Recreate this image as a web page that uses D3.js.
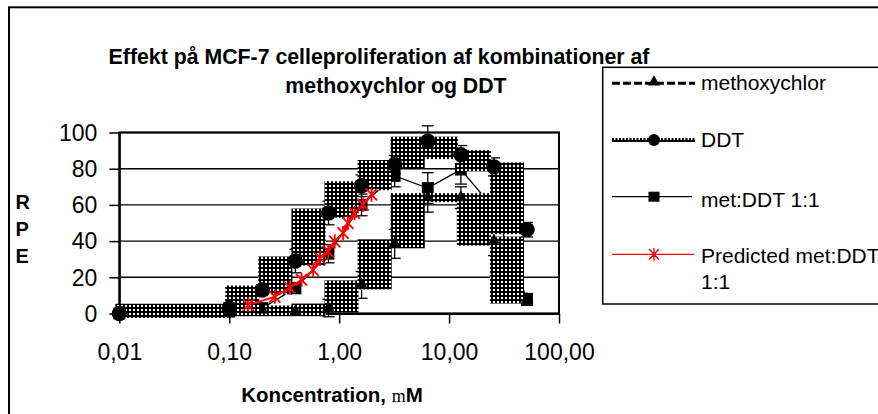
<!DOCTYPE html>
<html><head><meta charset="utf-8">
<script src="https://cdn.jsdelivr.net/npm/d3@7"></script>
<style>html,body{margin:0;padding:0;background:#fff;} svg{display:block;font-family:"Liberation Sans",Arial,sans-serif;}</style>
</head><body><svg id="c" width="878" height="414"></svg>
<script>
// ---- data ----
const conc = [0.01, 0.1, 0.2, 0.4, 0.8, 1.6, 3.2, 6.4, 12.8, 25.6, 51.2];
const methoxychlor = [0, 1, 2, 1, 3, 15.8, 38.5, 64, 64, 40, 8];
const methErr = [1, 1, 2, 2, 4.8, 7.4, 8, 8, 6, 8, 3];
const ddt = [0, 2.9, 13, 29, 55.5, 70.6, 82.3, 95.2, 87.8, 81, 46.3];
const ddtErr = [1, 3, 3, 6.5, 6.5, 6, 5, 8.5, 5, 5, 4];
const metDDT = [0, 1, 3, 14, 33, 60, 76, 69.3, 79.5, 58, 7.5];
const metErr = [1, 1, 2, 3, 5, 6, 6, 8.5, 8, 8, 3];
const predConc = [0.149, 0.26, 0.356, 0.455, 0.58, 0.668, 0.795, 0.912, 1.087, 1.2, 1.38, 1.65, 1.97];
const predicted = [4.7, 9.3, 14.3, 18.6, 24, 30.6, 34.2, 39.8, 44.4, 50, 55.5, 60.1, 65.7];
const xTickValues = [0.01, 0.1, 1, 10, 100];
const xTickLabels = ["0,01", "0,10", "1,00", "10,00", "100,00"];
const yTickValues = [0, 20, 40, 60, 80, 100];
const seriesNames = ["methoxychlor", "DDT", "met:DDT 1:1", "Predicted met:DDT", "1:1"];
const titleLines = ["Effekt på MCF-7 celleproliferation af kombinationer af", "methoxychlor og DDT"];

// ---- setup ----
const W = 878, H = 414;
const svg = d3.select("#c");
svg.append("rect").attr("width", W).attr("height", H).attr("fill", "#fff");
svg.append("rect").attr("x", 9).attr("y", 7.3).attr("width", W).attr("height", H)
  .attr("fill", "none").attr("stroke", "#000").attr("stroke-width", 2);

const defs = svg.append("defs");
const pat = defs.append("pattern").attr("id", "chk").attr("width", 4).attr("height", 4)
  .attr("patternUnits", "userSpaceOnUse");
pat.append("rect").attr("width", 4).attr("height", 4).attr("fill", "#000");
pat.append("rect").attr("x", 1).attr("y", 1).attr("width", 2).attr("height", 2).attr("fill", "#fff");

const x = d3.scaleLog().domain([0.01, 100]).range([119.3, 559]);
const y = d3.scaleLinear().domain([0, 100]).range([313.5, 132.5]);

// title
svg.append("text").attr("x", 379).attr("y", 64).attr("text-anchor", "middle")
  .attr("font-weight", "bold").attr("font-size", 21.3).text(titleLines[0]);
svg.append("text").attr("x", 396).attr("y", 93.3).attr("text-anchor", "middle")
  .attr("font-weight", "bold").attr("font-size", 21.3).text(titleLines[1]);

// gridlines
svg.append("g").selectAll("line").data(yTickValues).join("line")
  .attr("x1", x(0.01)).attr("x2", x(100)).attr("y1", d => y(d)).attr("y2", d => y(d))
  .attr("stroke", "#000").attr("stroke-width", 1.4);
svg.append("rect").attr("x", x(0.01)).attr("y", y(100)).attr("width", x(100) - x(0.01))
  .attr("height", y(0) - y(100)).attr("fill", "none").attr("stroke", "#000").attr("stroke-width", 2);

// axes
const gx = svg.append("g").attr("transform", `translate(0,${y(0)})`)
  .call(d3.axisBottom(x).tickValues(xTickValues).tickFormat((d, i) => xTickLabels[i])
    .tickSizeInner(10).tickSizeOuter(0).tickPadding(20));
const gy = svg.append("g").attr("transform", `translate(${x(0.01)},0)`)
  .call(d3.axisLeft(y).tickValues(yTickValues).tickSizeInner(10).tickSizeOuter(0).tickPadding(12));
[gx, gy].forEach(g => {
  g.attr("font-family", null).attr("font-size", null);
  g.select(".domain").attr("stroke-width", 2);
  g.selectAll(".tick line").attr("stroke-width", 1.5);
  g.selectAll(".tick text").attr("font-size", 23).attr("fill", "#000");
});
gy.selectAll(".tick text").attr("dy", "0.34em");

// axis titles
const at = svg.append("text").attr("x", 332).attr("y", 401.7).attr("text-anchor", "middle")
  .attr("font-weight", "bold").attr("font-size", 20.5);
at.append("tspan").text("Koncentration, ");
at.append("tspan").attr("font-family", "Liberation Serif").attr("font-weight", "normal").attr("font-size", 18).text("m");
at.append("tspan").text("M");
["R", "P", "E"].forEach((c, i) => {
  svg.append("text").attr("x", 15.5).attr("y", 209.3 + i * 27).attr("font-weight", "bold")
    .attr("font-size", 20).text(c);
});

// helpers
function errBars(xs, vals, errs) {
  const g = svg.append("g").attr("stroke", "#000").attr("stroke-width", 1.3);
  xs.forEach((c, i) => {
    const cx = x(c), y1 = y(vals[i] + errs[i]), y2 = y(vals[i] - errs[i]);
    g.append("line").attr("x1", cx).attr("x2", cx).attr("y1", y1).attr("y2", y2);
    g.append("line").attr("x1", cx - 6).attr("x2", cx + 6).attr("y1", y1).attr("y2", y1);
    g.append("line").attr("x1", cx - 6).attr("x2", cx + 6).attr("y1", y2).attr("y2", y2);
  });
}
function boxes(xs, vals) {
  const segs = d3.pairs(xs.map((c, i) => [c, vals[i]]));
  svg.append("g").selectAll("rect").data(segs).join("rect")
    .attr("x", d => x(d[0][0]) - 4)
    .attr("width", d => (x(d[1][0]) - 3) - (x(d[0][0]) - 4))
    .attr("y", d => Math.min(y(d[0][1]), y(d[1][1])) - 4.5)
    .attr("height", d => Math.abs(y(d[0][1]) - y(d[1][1])) + 9)
    .attr("fill", "url(#chk)");
}
function marks(xs, vals, type, size) {
  svg.append("g").selectAll("path").data(xs.map((c, i) => [c, vals[i]])).join("path")
    .attr("transform", d => `translate(${x(d[0])},${y(d[1])})`)
    .attr("d", d3.symbol().type(type).size(size)).attr("fill", "#000");
}
function starPath(s) {
  const p = d3.path();
  p.moveTo(0, -s * 1.1); p.lineTo(0, s * 1.1);
  p.moveTo(-s * 0.85, -s * 0.9); p.lineTo(s * 0.85, s * 0.9);
  p.moveTo(-s * 0.85, s * 0.9); p.lineTo(s * 0.85, -s * 0.9);
  return p.toString();
}
const line = d3.line().x(d => x(d[0])).y(d => y(d[1]));

// met:DDT 1:1 (drawn underneath)
errBars(conc, metDDT, metErr);
svg.append("path").datum(conc.map((c, i) => [c, metDDT[i]])).attr("d", line)
  .attr("fill", "none").attr("stroke", "#000").attr("stroke-width", 1.3);
marks(conc, metDDT, d3.symbolSquare, 140);

// methoxychlor
errBars(conc, methoxychlor, methErr);
boxes(conc, methoxychlor);
marks(conc, methoxychlor, d3.symbolTriangle, 70);

// DDT
errBars(conc, ddt, ddtErr);
boxes(conc, ddt);
marks(conc, ddt, d3.symbolCircle, 185);

// Predicted
svg.append("path").datum(predConc.map((c, i) => [c, predicted[i]])).attr("d", line)
  .attr("fill", "none").attr("stroke", "#ff0000").attr("stroke-width", 2);
svg.append("g").selectAll("path").data(predConc.map((c, i) => [c, predicted[i]])).join("path")
  .attr("transform", d => `translate(${x(d[0])},${y(d[1])})`)
  .attr("d", starPath(6.5)).attr("fill", "none").attr("stroke", "#ff0000").attr("stroke-width", 1.8);

// ---- legend ----
const lg = svg.append("g");
lg.append("rect").attr("x", 602.7).attr("y", 67.3).attr("width", 300).attr("height", 236.7)
  .attr("fill", "#fff").attr("stroke", "#000").attr("stroke-width", 1.5);
const lx1 = 612, lx2 = 695, lm = 654, tx = 701;
// methoxychlor
lg.append("line").attr("x1", lx1).attr("x2", lx2).attr("y1", 83.3).attr("y2", 83.3)
  .attr("stroke", "#000").attr("stroke-width", 3).attr("stroke-dasharray", "8,3");
lg.append("path").attr("transform", `translate(${lm},82)`).attr("d", d3.symbol().type(d3.symbolTriangle).size(60)).attr("fill", "#000");
// DDT
lg.append("line").attr("x1", lx1).attr("x2", lx2).attr("y1", 141).attr("y2", 141)
  .attr("stroke", "#000").attr("stroke-width", 2);
lg.append("line").attr("x1", lx1).attr("x2", lx2).attr("y1", 139).attr("y2", 139)
  .attr("stroke", "#000").attr("stroke-width", 2).attr("stroke-dasharray", "2,1.5");
lg.append("path").attr("transform", `translate(${lm},140)`).attr("d", d3.symbol().type(d3.symbolCircle).size(110)).attr("fill", "#000");
// met:DDT
lg.append("line").attr("x1", lx1).attr("x2", lx2 - 3).attr("y1", 196.7).attr("y2", 196.7)
  .attr("stroke", "#000").attr("stroke-width", 1.3);
lg.append("rect").attr("x", lm - 5.5).attr("y", 191.7).attr("width", 11).attr("height", 10).attr("fill", "#000");
// Predicted
lg.append("line").attr("x1", lx1).attr("x2", lx2 - 1).attr("y1", 254.3).attr("y2", 254.3)
  .attr("stroke", "#ff0000").attr("stroke-width", 1.3);
lg.append("path").attr("transform", `translate(${lm},254.3)`).attr("d", starPath(5.8))
  .attr("fill", "none").attr("stroke", "#ff0000").attr("stroke-width", 1.4);
const ly = [89.5, 146.7, 206.7, 262.7, 289.3];
seriesNames.forEach((t, i) => {
  lg.append("text").attr("x", tx).attr("y", ly[i]).attr("font-size", 21).text(t);
});
</script></body></html>
